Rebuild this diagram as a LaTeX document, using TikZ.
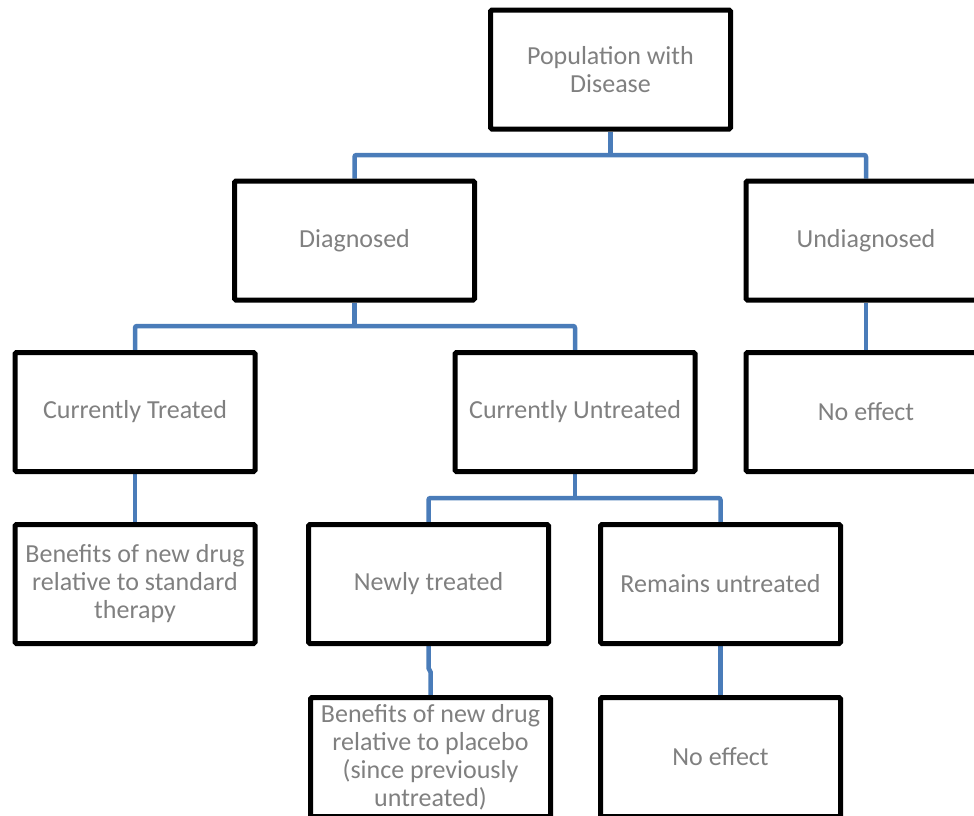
\documentclass[tikz,border=0pt]{standalone}
\usepackage{fontspec}
\setmainfont{Carlito}
\usetikzlibrary{backgrounds}
\definecolor{conn}{RGB}{74,124,185}
\definecolor{txt}{RGB}{128,128,128}
\begin{document}
\begin{tikzpicture}[x=1pt,y=-1pt,
  box/.style={draw=black,line width=5pt,fill=white,rounded corners=1.5pt,
    minimum width=240pt,minimum height=119pt,inner sep=0pt,
    text=txt,align=center,font=\fontsize{26}{28}\selectfont},
  link/.style={draw=conn,line width=4.5pt,rounded corners=2pt}]
\useasboundingbox (0,0) rectangle (974,815);
\clip (0,0) rectangle (974,815);
\coordinate (h1) at (0,155);
\coordinate (h2) at (0,326);
\coordinate (h3) at (0,498);
\node[box] (pop) at (610.5,69.5) {Population with\\Disease};
\node[box] (diag) at (354.5,240.5) {Diagnosed};
\node[box] (undiag) at (866,240.5) {Undiagnosed};
\node[box] (curtr) at (135,412) {Currently Treated};
\node[box] (curun) at (575,412) {Currently Untreated};
\node[box] (noeff1) at (866,412) {No effect};
\node[box] (benstd) at (135,584) {Benefits of new drug\\relative to standard\\therapy};
\node[box] (newly) at (428.5,584) {Newly treated};
\node[box] (remain) at (720.5,584) {Remains untreated};
\node[box] (benpl) at (430.5,757) {Benefits of new drug\\relative to placebo\\(since previously\\untreated)};
\node[box] (noeff2) at (720.5,757) {No effect};
\begin{scope}[on background layer]
\draw[link] (pop.south) -- (pop.south |- h1);
\draw[link] (diag.north) |- (pop.south |- h1) -| (undiag.north);
\draw[link] (diag.south) -- (diag.south |- h2);
\draw[link] (curtr.north) |- (diag.south |- h2) -| (curun.north);
\draw[link] (undiag.south) -- (noeff1.north);
\draw[link] (curtr.south) -- (benstd.north);
\draw[link] (curun.south) -- (curun.south |- h3);
\draw[link] (newly.north) |- (curun.south |- h3) -| (remain.north);
\draw[link,rounded corners=0pt] (newly.south) -- ++(0,22) -- ++(2,4) -- (benpl.north);
\draw[link] (remain.south) -- (noeff2.north);
\end{scope}
\end{tikzpicture}
\end{document}
